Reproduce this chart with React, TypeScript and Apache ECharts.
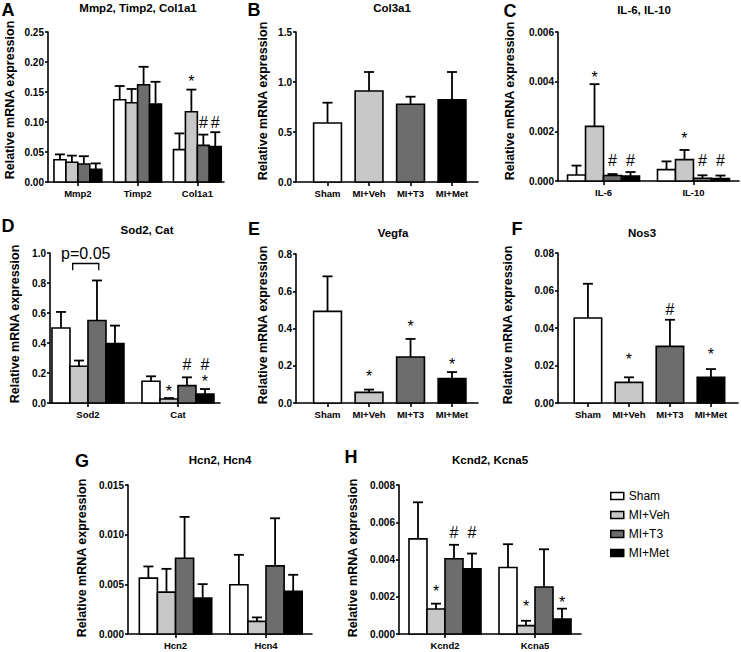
import React, { useEffect, useRef } from 'react';
import * as echarts from 'echarts';

const groups = ['Sham', 'MI+Veh', 'MI+T3', 'MI+Met'];
const groupColors = ['#ffffff', '#c8c8c8', '#6d6d6d', '#000000'];

// Panel A
const aCats = ['Mmp2', 'Timp2', 'Col1a1'];
const aMean = [[0.037, 0.137, 0.054], [0.033, 0.132, 0.117], [0.030, 0.162, 0.061], [0.021, 0.130, 0.059]];
const aSem = [[0.009, 0.023, 0.027], [0.011, 0.023, 0.037], [0.013, 0.030, 0.018], [0.010, 0.037, 0.024]];
const aMarks = [[2, 1, 0.174, '*'], [2, 2, 0.100, '#'], [2, 3, 0.100, '#']];

// Panel B
const bCats = ['Sham', 'MI+Veh', 'MI+T3', 'MI+Met'];
const bMean = [0.59, 0.91, 0.777, 0.823];
const bSem = [0.203, 0.19, 0.076, 0.277];
const bMarks: any[] = [];

// Panel C
const cCats = ['IL-6', 'IL-10'];
const cMean = [[0.00024, 0.00046], [0.0022, 0.00086], [0.00022, 0.00011], [0.0002, 0.0001]];
const cSem = [[0.00038, 0.00033], [0.0017, 0.00039], [0.00006, 0.00012], [0.00016, 0.00012]];
const cMarks = [[0, 1, 0.0043, '*'], [0, 2, 0.00084, '#'], [0, 3, 0.00084, '#'], [1, 1, 0.00184, '*'], [1, 2, 0.00082, '#'], [1, 3, 0.00082, '#']];

// Panel D
const dCats = ['Sod2', 'Cat'];
const dMean = [[0.50, 0.145], [0.245, 0.027], [0.55, 0.116], [0.397, 0.06]];
const dSem = [[0.107, 0.033], [0.038, 0.006], [0.267, 0.055], [0.119, 0.033]];
const dMarks = [[1, 1, 0.10, '*'], [1, 2, 0.26, '#'], [1, 3, 0.26, '#'], [1, 3, 0.165, '*']];
const dBracket = [0, -0.17, 0.12, 0.93, 0.885, 1.0];
const dBracketText = 'p=0.05';

// Panel E
const eCats = ['Sham', 'MI+Veh', 'MI+T3', 'MI+Met'];
const eMean = [0.492, 0.057, 0.247, 0.131];
const eSem = [0.188, 0.015, 0.097, 0.035];
const eMarks = [[1, 1, 0.161, '*'], [2, 2, 0.43, '*'], [3, 3, 0.224, '*']];

// Panel F
const fCats = ['Sham', 'MI+Veh', 'MI+T3', 'MI+Met'];
const fMean = [0.0453, 0.011, 0.0302, 0.0137];
const fSem = [0.0183, 0.0027, 0.0142, 0.0044];
const fMarks = [[1, 1, 0.0249, '*'], [2, 2, 0.0498, '#'], [3, 3, 0.0276, '*']];

// Panel G
const gCats = ['Hcn2', 'Hcn4'];
const gMean = [[0.00563, 0.00496], [0.00422, 0.00127], [0.00763, 0.00686], [0.00362, 0.00429]];
const gSem = [[0.00117, 0.00301], [0.00234, 0.0004], [0.00416, 0.00479], [0.0014, 0.00167]];
const gMarks: any[] = [];

// Panel H
const hCats = ['Kcnd2', 'Kcna5'];
const hMean = [[0.00511, 0.00357], [0.00134, 0.00045], [0.00404, 0.00252], [0.0035, 0.0008]];
const hSem = [[0.00196, 0.00125], [0.00029, 0.00026], [0.00075, 0.00203], [0.00082, 0.00056]];
const hMarks = [[0, 1, 0.00246, '*'], [0, 2, 0.00545, '#'], [0, 3, 0.00545, '#'], [1, 1, 0.00166, '*'], [1, 3, 0.00189, '*']];

const FONT = '"Liberation Sans", Arial, sans-serif';
const NARROW = '"Liberation Sans Narrow", "Arial Narrow", "Liberation Sans", Arial, sans-serif';
const YLABEL = 'Relative mRNA expression';

const panels = [
  { letter: 'A', title: 'Mmp2, Timp2, Col1a1', cats: aCats, mean: aMean, sem: aSem, marks: aMarks, grouped: true, yMax: 0.25, yInt: 0.05, dec: 2,
    left: 48, top: 32, right: 224, bottom: 182, xMin: -0.5, xMax: 2.446, bw: 0.2, tx: 138, ty: 8, lx: 8, ly: 10, yx: 10, yy: 100 },
  { letter: 'B', title: 'Col3a1', cats: bCats, mean: bMean, sem: bSem, marks: bMarks, grouped: false, yMax: 1.5, yInt: 0.5, dec: 1,
    left: 296, top: 32, right: 478, bottom: 182, xMin: -0.76, xMax: 3.626, bw: 0.67, tx: 392, ty: 8, lx: 254, ly: 10, yx: 263, yy: 101 },
  { letter: 'C', title: 'IL-6, IL-10', cats: cCats, mean: cMean, sem: cSem, marks: cMarks, grouped: true, yMax: 0.006, yInt: 0.002, dec: 3,
    left: 558, top: 32, right: 739, bottom: 181, xMin: -0.506, xMax: 1.506, bw: 0.2, tx: 644, ty: 10, lx: 510, ly: 11, yx: 510, yy: 101 },
  { letter: 'D', title: 'Sod2, Cat', cats: dCats, mean: dMean, sem: dSem, marks: dMarks, grouped: true, yMax: 1.0, yInt: 0.2, dec: 1,
    left: 50, top: 253, right: 220, bottom: 403, xMin: -0.422, xMax: 1.467, bw: 0.2, tx: 147, ty: 230, lx: 8, ly: 226, yx: 15, yy: 324 },
  { letter: 'E', title: 'Vegfa', cats: eCats, mean: eMean, sem: eSem, marks: eMarks, grouped: false, yMax: 0.8, yInt: 0.2, dec: 1,
    left: 296, top: 254, right: 478, bottom: 403, xMin: -0.76, xMax: 3.626, bw: 0.67, tx: 393, ty: 233, lx: 254, ly: 229, yx: 263, yy: 325 },
  { letter: 'F', title: 'Nos3', cats: fCats, mean: fMean, sem: fSem, marks: fMarks, grouped: false, yMax: 0.08, yInt: 0.02, dec: 2,
    left: 558, top: 253, right: 738, bottom: 403, xMin: -0.73, xMax: 3.66, bw: 0.67, tx: 642, ty: 233, lx: 517, ly: 229, yx: 508, yy: 325 },
  { letter: 'G', title: 'Hcn2, Hcn4', cats: gCats, mean: gMean, sem: gSem, marks: gMarks, grouped: true, yMax: 0.015, yInt: 0.005, dec: 3,
    left: 128, top: 485, right: 312, bottom: 634, xMin: -0.525, xMax: 1.508, bw: 0.2, tx: 220, ty: 460, lx: 82, ly: 461, yx: 82, yy: 558 },
  { letter: 'H', title: 'Kcnd2, Kcna5', cats: hCats, mean: hMean, sem: hSem, marks: hMarks, grouped: true, yMax: 0.008, yInt: 0.002, dec: 3,
    left: 399, top: 485, right: 581, bottom: 634, xMin: -0.511, xMax: 1.511, bw: 0.2, tx: 490, ty: 460, lx: 351, ly: 457, yx: 353, yy: 558 },
];

function buildOption() {
  const grid: any[] = [];
  const xAxis: any[] = [];
  const yAxis: any[] = [];
  const series: any[] = [];
  const graphic: any[] = [];

  panels.forEach((p, i) => {
    grid.push({ left: p.left, top: p.top, width: p.right - p.left, height: p.bottom - p.top, containLabel: false });
    const idx = p.cats.map((_, j) => j);
    xAxis.push({
      gridIndex: i, type: 'value', min: p.xMin, max: p.xMax,
      axisLine: { show: true, onZero: false, lineStyle: { color: '#000', width: 1.6 } },
      axisTick: { show: true, customValues: idx, length: 4, lineStyle: { color: '#000', width: 1.6 } },
      axisLabel: { show: true, customValues: idx, formatter: (v: number) => p.cats[Math.round(v)] ?? '', fontSize: 9.5, fontWeight: 'bold', color: '#000', fontFamily: FONT, margin: 6 },
      splitLine: { show: false },
    });
    yAxis.push({
      gridIndex: i, type: 'value', min: 0, max: p.yMax, interval: p.yInt,
      axisLine: { show: true, onZero: false, lineStyle: { color: '#000', width: 1.6 } },
      axisTick: { show: true, length: 3, lineStyle: { color: '#000', width: 1.6 } },
      axisLabel: { formatter: (v: number) => v.toFixed(p.dec), fontSize: 10, fontWeight: 'bold', color: '#000', fontFamily: FONT, margin: 4 },
      splitLine: { show: false },
    });

    const bw = p.bw;
    groups.forEach((g, gi) => {
      let data: number[][];
      let off = 0;
      if (p.grouped) {
        const m = (p.mean as number[][])[gi];
        const s = (p.sem as number[][])[gi];
        data = m.map((v, c) => [c, v, s[c]]);
        off = (gi - 1.5) * bw;
      } else {
        data = [[gi, (p.mean as number[])[gi], (p.sem as number[])[gi]]];
      }
      series.push({
        type: 'custom', name: g, xAxisIndex: i, yAxisIndex: i, data,
        itemStyle: { color: groupColors[gi], borderColor: '#000', borderWidth: 1.5 },
        renderItem: (params: any, api: any) => {
          const x = api.value(0) + off;
          const m = api.value(1);
          const s = api.value(2);
          const bl = api.coord([x - bw / 2, 0]);
          const tr = api.coord([x + bw / 2, m]);
          const top = api.coord([x, m]);
          const et = api.coord([x, m + s]);
          return {
            type: 'group',
            children: [
              { type: 'line', shape: { x1: top[0], y1: top[1], x2: et[0], y2: et[1] }, style: { stroke: '#000', lineWidth: 1.8 } },
              { type: 'line', shape: { x1: et[0] - 5, y1: et[1], x2: et[0] + 5, y2: et[1] }, style: { stroke: '#000', lineWidth: 1.8 } },
              { type: 'rect', shape: { x: bl[0], y: tr[1], width: tr[0] - bl[0], height: bl[1] - tr[1] }, style: { fill: groupColors[gi], stroke: '#000', lineWidth: 1.6 } },
            ],
          };
        },
      });
    });

    if (p.marks.length) {
      const marks = p.marks;
      series.push({
        type: 'custom', name: 'marks' + p.letter, xAxisIndex: i, yAxisIndex: i,
        data: marks.map((mk: any) => [p.grouped ? mk[0] + (mk[1] - 1.5) * bw : mk[0], mk[2]]),
        renderItem: (params: any, api: any) => {
          const pt = api.coord([api.value(0), api.value(1)]);
          const sym = marks[params.dataIndex][3];
          return {
            type: 'text', x: pt[0], y: pt[1] + (sym === '*' ? 3.5 : 0),
            style: { text: sym, fontSize: 16, fontFamily: FONT, fill: '#000', align: 'center', verticalAlign: 'middle' },
          };
        },
      });
    }

    graphic.push({ type: 'text', x: p.lx, y: p.ly, style: { text: p.letter, fontSize: 18, fontWeight: 'bold', fontFamily: FONT, fill: '#000', align: 'center', verticalAlign: 'middle' } });
    graphic.push({ type: 'text', x: p.tx, y: p.ty, style: { text: p.title, fontSize: 11.5, fontWeight: 'bold', fontFamily: FONT, fill: '#000', align: 'center', verticalAlign: 'middle' } });
    graphic.push({ type: 'text', x: p.yx, y: p.yy, rotation: Math.PI / 2, style: { text: YLABEL, fontSize: 12.5, fontWeight: 'bold', fontFamily: FONT, fill: '#000', align: 'center', verticalAlign: 'middle' } });
  });

  // bracket in panel D
  series.push({
    type: 'custom', name: 'bracketD', xAxisIndex: 3, yAxisIndex: 3,
    data: [dBracket],
    renderItem: (params: any, api: any) => {
      const c = api.value(0);
      const p1 = api.coord([c + api.value(1), api.value(3)]);
      const p2 = api.coord([c + api.value(2), api.value(3)]);
      const e1 = api.coord([c + api.value(1), api.value(4)]);
      const e2 = api.coord([c + api.value(2), api.value(4)]);
      const t = api.coord([c + (api.value(1) + api.value(2)) / 2, api.value(5)]);
      return {
        type: 'group',
        children: [
          { type: 'polyline', shape: { points: [e1, p1, p2, e2] }, style: { stroke: '#000', lineWidth: 1.3, fill: null } },
          { type: 'text', x: t[0], y: t[1], style: { text: dBracketText, fontSize: 16, fontFamily: FONT, fill: '#000', align: 'center', verticalAlign: 'middle' } },
        ],
      };
    },
  });

  return {
    animation: false,
    backgroundColor: '#ffffff',
    grid, xAxis, yAxis, series, graphic,
    legend: {
      data: groups.map((g, i) => ({ name: g, itemStyle: { color: groupColors[i], borderColor: '#000', borderWidth: 1.5 } })),
      orient: 'vertical', left: 605, top: 485, icon: 'rect', itemWidth: 13, itemHeight: 7, itemGap: 7,
      selectedMode: false,
      textStyle: { fontSize: 12, fontFamily: NARROW, color: '#000' },
    },
  };
}

export default function App() {
  const ref = useRef<HTMLDivElement>(null);
  useEffect(() => {
    if (!ref.current) return;
    const chart = echarts.init(ref.current, null, { renderer: 'svg' });
    chart.setOption(buildOption() as any);
    return () => chart.dispose();
  }, []);
  return <div ref={ref} style={{ position: 'fixed', left: 0, top: 0, width: 741, height: 652, background: '#fff' }} />;
}
